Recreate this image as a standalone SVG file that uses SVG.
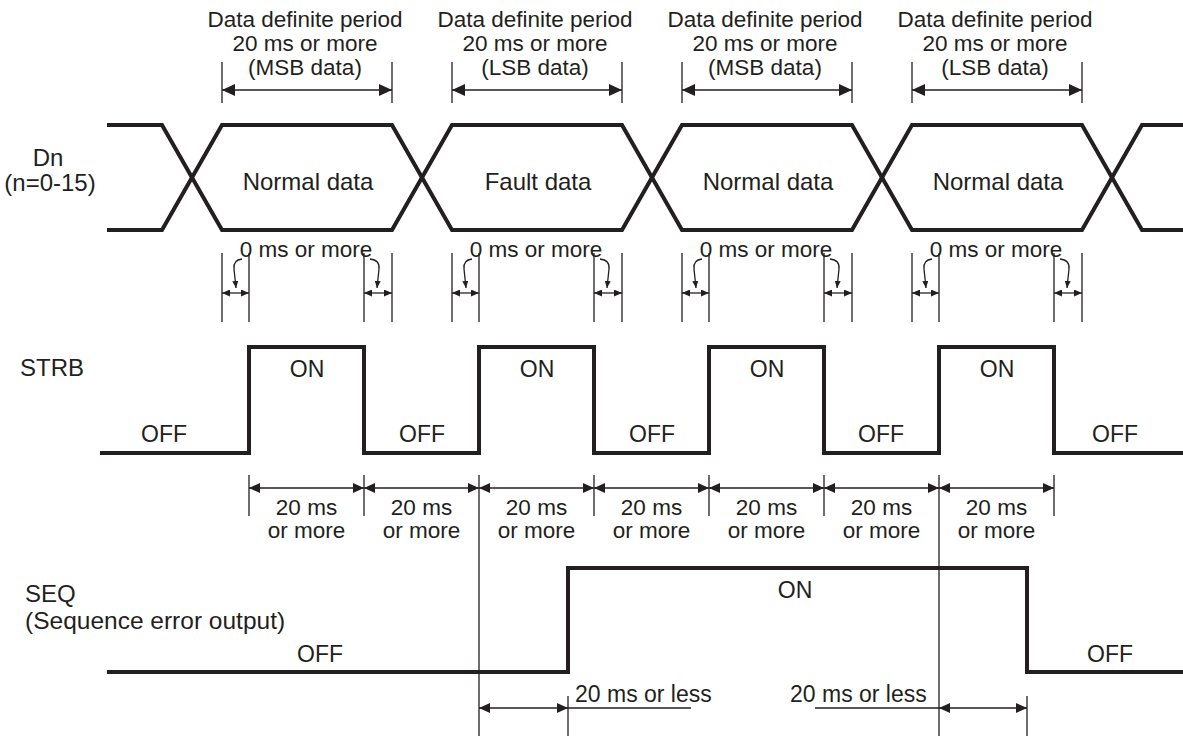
<svg xmlns="http://www.w3.org/2000/svg" width="1183" height="736" viewBox="0 0 1183 736">
<style>
text{font-family:"Liberation Sans",Arial,sans-serif;fill:#231f20;font-size:23px}
.m{text-anchor:middle}
.s{font-size:22.5px}
.lb{font-size:24px}
.w{fill:none;stroke:#231f20;stroke-width:4;stroke-linejoin:miter}
.t{fill:none;stroke:#231f20;stroke-width:1.3}
.dA{marker-start:url(#aL);marker-end:url(#aL)}
.dB{marker-start:url(#aM);marker-end:url(#aM)}
.dC{marker-start:url(#aS);marker-end:url(#aS)}
.ld{fill:none;stroke:#231f20;stroke-width:1.3;marker-end:url(#aT)}
</style>
<defs>
<marker id="aL" viewBox="0 0 13 12" refX="13" refY="6" markerWidth="13" markerHeight="12" orient="auto-start-reverse" markerUnits="userSpaceOnUse"><path d="M0,0L13,6L0,12z" fill="#231f20"/></marker>
<marker id="aM" viewBox="0 0 11 10" refX="11" refY="5" markerWidth="11" markerHeight="10" orient="auto-start-reverse" markerUnits="userSpaceOnUse"><path d="M0,0L11,5L0,10z" fill="#231f20"/></marker>
<marker id="aS" viewBox="0 0 8 7" refX="8" refY="3.5" markerWidth="8" markerHeight="7" orient="auto-start-reverse" markerUnits="userSpaceOnUse"><path d="M0,0L8,3.5L0,7z" fill="#231f20"/></marker>
<marker id="aT" viewBox="0 0 7 6" refX="7" refY="3" markerWidth="7" markerHeight="6" orient="auto" markerUnits="userSpaceOnUse"><path d="M0,0L7,3L0,6z" fill="#231f20"/></marker>
</defs>

<g id="signal-labels">
<text class="m lb" x="48" y="166">Dn</text>
<text class="m lb" x="50" y="191">(n=0-15)</text>
<text class="lb" x="20" y="376">STRB</text>
<text class="lb" x="25" y="602">SEQ</text>
<text x="25" y="629" style="font-size:24.5px">(Sequence error output)</text>
</g>

<g id="top-labels" class="s">
<text class="m s" x="305" y="27">Data definite period</text>
<text class="m s" x="305" y="51">20 ms or more</text>
<text class="m s" x="305" y="75">(MSB data)</text>
<text class="m s" x="535" y="27">Data definite period</text>
<text class="m s" x="535" y="51">20 ms or more</text>
<text class="m s" x="535" y="75">(LSB data)</text>
<text class="m s" x="765" y="27">Data definite period</text>
<text class="m s" x="765" y="51">20 ms or more</text>
<text class="m s" x="765" y="75">(MSB data)</text>
<text class="m s" x="995" y="27">Data definite period</text>
<text class="m s" x="995" y="51">20 ms or more</text>
<text class="m s" x="995" y="75">(LSB data)</text>
</g>

<g id="dn-signal">
<path class="w" d="M107,125H162L222,230H392L452,125H622L682,230H852L912,125H1082L1142,230H1183"/>
<path class="w" d="M107,230H162L222,125H392L452,230H622L682,125H852L912,230H1082L1142,125H1183"/>
<text class="m" x="308" y="190" style="font-size:24px">Normal data</text>
<text class="m" x="538" y="190" style="font-size:24px">Fault data</text>
<text class="m" x="768" y="190" style="font-size:24px">Normal data</text>
<text class="m" x="998" y="190" style="font-size:24px">Normal data</text>
</g>

<g id="strb-signal">
<path class="w" d="M100,453H249V347H364V453H479V347H594V453H709V347H824V453H939V347H1054V453H1183"/>
<text class="m" x="307" y="377">ON</text>
<text class="m" x="537" y="377">ON</text>
<text class="m" x="767" y="377">ON</text>
<text class="m" x="997" y="377">ON</text>
<text class="m" x="164" y="442">OFF</text>
<text class="m" x="422" y="442">OFF</text>
<text class="m" x="652" y="442">OFF</text>
<text class="m" x="881" y="442">OFF</text>
<text class="m" x="1115" y="442">OFF</text>
</g>

<g id="seq-signal">
<path class="w" d="M107,672H568V568H1027V672H1183"/>
<text class="m" x="795" y="598">ON</text>
<text class="m" x="320" y="662">OFF</text>
<text class="m" x="1110" y="662">OFF</text>
</g>

<g id="zero-ms-labels" class="s">
<text class="m s" x="306" y="257">0 ms or more</text>
<text class="m s" x="536" y="257">0 ms or more</text>
<text class="m s" x="766" y="257">0 ms or more</text>
<text class="m s" x="996" y="257">0 ms or more</text>
</g>

<g id="period-labels">
<text class="m s" x="306.5" y="515">20 ms</text><text class="m s" x="306.5" y="538">or more</text>
<text class="m s" x="421.5" y="515">20 ms</text><text class="m s" x="421.5" y="538">or more</text>
<text class="m s" x="536.5" y="515">20 ms</text><text class="m s" x="536.5" y="538">or more</text>
<text class="m s" x="651.5" y="515">20 ms</text><text class="m s" x="651.5" y="538">or more</text>
<text class="m s" x="766.5" y="515">20 ms</text><text class="m s" x="766.5" y="538">or more</text>
<text class="m s" x="881.5" y="515">20 ms</text><text class="m s" x="881.5" y="538">or more</text>
<text class="m s" x="996.5" y="515">20 ms</text><text class="m s" x="996.5" y="538">or more</text>
<text x="575" y="702">20 ms or less</text>
<text x="790" y="702">20 ms or less</text>
</g>

<g id="connectors">
<path class="t" d="M222,62V103M392,62V103M452,62V103M622,62V103M682,62V103M852,62V103M912,62V103M1082,62V103"/>
<line class="t dA" x1="222" y1="90" x2="392" y2="90"/>
<line class="t dA" x1="452" y1="90" x2="622" y2="90"/>
<line class="t dA" x1="682" y1="90" x2="852" y2="90"/>
<line class="t dA" x1="912" y1="90" x2="1082" y2="90"/>
<path class="t" d="M222,253V322M249,253V322M364,253V322M392,253V322M452,253V322M479,253V322M594,253V322M622,253V322M682,253V322M709,253V322M824,253V322M852,253V322M912,253V322M939,253V322M1054,253V322M1082,253V322"/>
<line class="t dC" x1="222" y1="293" x2="249" y2="293"/>
<line class="t dC" x1="364" y1="293" x2="392" y2="293"/>
<line class="t dC" x1="452" y1="293" x2="479" y2="293"/>
<line class="t dC" x1="594" y1="293" x2="622" y2="293"/>
<line class="t dC" x1="682" y1="293" x2="709" y2="293"/>
<line class="t dC" x1="824" y1="293" x2="852" y2="293"/>
<line class="t dC" x1="912" y1="293" x2="939" y2="293"/>
<line class="t dC" x1="1054" y1="293" x2="1082" y2="293"/>
<path class="ld" d="M242,259Q233,260 234,269L236,288"/>
<path class="ld" d="M370,259Q380,260 379,269L377,288"/>
<path class="ld" d="M472,259Q463,260 464,269L466,288"/>
<path class="ld" d="M600,259Q610,260 609,269L607,288"/>
<path class="ld" d="M702,259Q693,260 694,269L696,288"/>
<path class="ld" d="M830,259Q840,260 839,269L837,288"/>
<path class="ld" d="M932,259Q923,260 924,269L926,288"/>
<path class="ld" d="M1060,259Q1070,260 1069,269L1067,288"/>
<path class="t" d="M249,475V516M364,475V516M594,475V516M709,475V516M824,475V516M1054,475V516M479,475V736M939,475V736"/>
<line class="t dB" x1="249" y1="488" x2="364" y2="488"/>
<line class="t dB" x1="364" y1="488" x2="479" y2="488"/>
<line class="t dB" x1="479" y1="488" x2="594" y2="488"/>
<line class="t dB" x1="594" y1="488" x2="709" y2="488"/>
<line class="t dB" x1="709" y1="488" x2="824" y2="488"/>
<line class="t dB" x1="824" y1="488" x2="939" y2="488"/>
<line class="t dB" x1="939" y1="488" x2="1054" y2="488"/>
<path class="t" d="M568,696V736M1027,696V736M568,708H691M815,708H939"/>
<line class="t dB" x1="479" y1="708" x2="568" y2="708"/>
<line class="t dB" x1="939" y1="708" x2="1027" y2="708"/>
</g>
</svg>
